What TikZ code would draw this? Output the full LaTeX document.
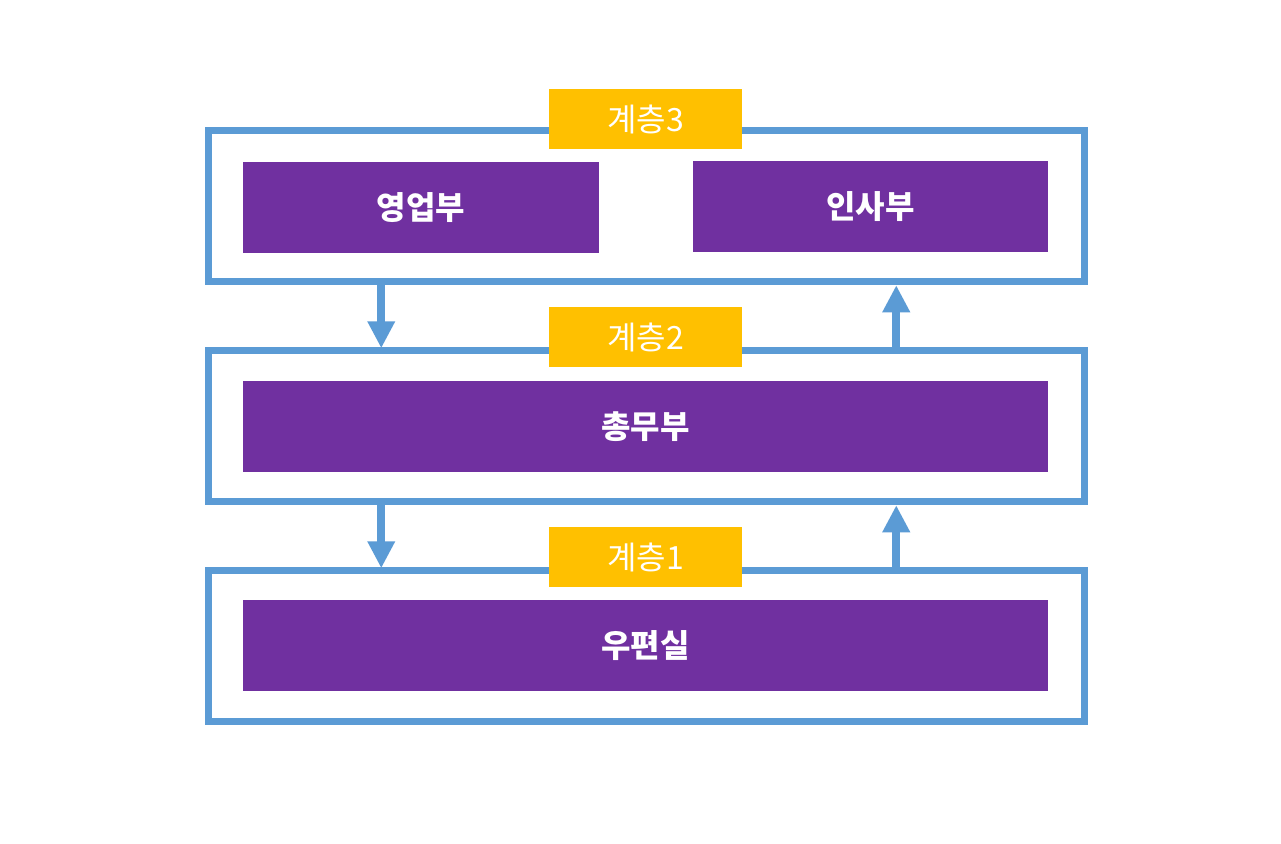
\documentclass[tikz,border=0pt]{standalone}
\usepackage{fontspec}
\setmainfont{Noto Sans CJK KR}
\usetikzlibrary{arrows.meta}
\definecolor{fblue}{HTML}{5B9BD5}
\definecolor{dept}{HTML}{7030A0}
\definecolor{tag}{HTML}{FFC000}
\tikzset{
  frame/.style={draw=fblue, line width=7.5pt, minimum width=876pt, minimum height=151pt, inner sep=0pt},
  deptbox/.style={fill=dept, text=white, inner sep=0pt, font=\fontsize{32}{36}\selectfont\bfseries},
  tagbox/.style={fill=tag, text=white, inner sep=0pt, minimum width=193pt, minimum height=60pt, font=\fontsize{32}{36}\selectfont},
  flow/.style={draw=fblue, line width=8pt, -{Triangle[length=27pt,width=26pt]}}
}
\begin{document}
\begin{tikzpicture}[x=1pt,y=-1pt]
\useasboundingbox (0,0) rectangle (1281,843);
\fill[white] (0,0) rectangle (1281,843);
% frames
\node[frame] (L3) at (646.5,206) {};
\node[frame] (L2) at (646.5,426) {};
\node[frame] (L1) at (646.5,646) {};
% connectors
\draw[flow] ([xshift=176.5pt]L3.south west) -- ([xshift=176.5pt,yshift=-1.5pt]L2.north west);
\draw[flow] ([xshift=176.5pt]L2.south west) -- ([xshift=176.5pt,yshift=-1.5pt]L1.north west);
\draw[flow] ([xshift=691.5pt]L2.north west) -- ([xshift=691.5pt]L3.south west);
\draw[flow] ([xshift=691.5pt]L1.north west) -- ([xshift=691.5pt]L2.south west);
% tags
\node[tagbox] (T3) at (645.5,119) {계층3};
\node[tagbox] (T2) at (645.5,337) {계층2};
\node[tagbox] (T1) at (645.5,557) {계층1};
% departments
\node[deptbox, minimum width=356pt, minimum height=91pt] (sales) at (421,207.5) {영업부};
\node[deptbox, minimum width=355pt, minimum height=91pt] (hr) at (870.5,206.5) {인사부};
\node[deptbox, minimum width=805pt, minimum height=91pt] (admin) at (645.5,426.5) {총무부};
\node[deptbox, minimum width=805pt, minimum height=91pt] (mail) at (645.5,645.5) {우편실};
\end{tikzpicture}
\end{document}
